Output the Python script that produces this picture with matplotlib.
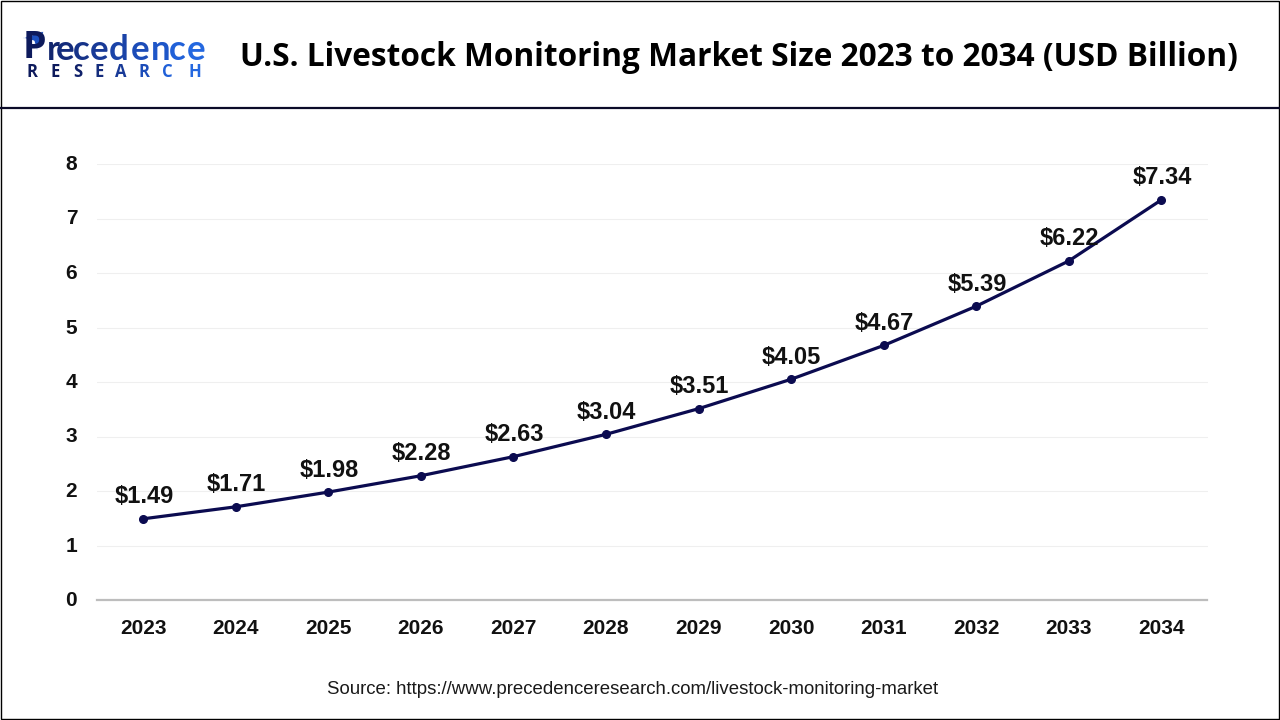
import numpy as np
import matplotlib
matplotlib.use("Agg")
import matplotlib.pyplot as plt
from matplotlib.patches import Polygon, Rectangle
from matplotlib.transforms import ScaledTranslation

years = ['2023', '2024', '2025', '2026', '2027', '2028', '2029', '2030', '2031', '2032', '2033', '2034']
values = [1.49, 1.71, 1.98, 2.28, 2.63, 3.04, 3.51, 4.05, 4.67, 5.39, 6.22, 7.34]
labels = ['$1.49', '$1.71', '$1.98', '$2.28', '$2.63', '$3.04', '$3.51', '$4.05', '$4.67', '$5.39', '$6.22', '$7.34']
y_ticks = [0, 1, 2, 3, 4, 5, 6, 7, 8]

navy = '#0b0b50'
W, H = 1280, 720

fig = plt.figure(figsize=(12.8, 7.2), dpi=100, facecolor='white')

# pixel overlay for the frame, header and logo
bg = fig.add_axes([0, 0, 1, 1])
bg.set_xlim(0, W)
bg.set_ylim(H, 0)
bg.axis('off')
bg.add_patch(Rectangle((0.5, 0.5), W - 1.5, H - 1.5, fill=False, ec='black', lw=1.0))
bg.plot([0, W], [108, 108], color='#0a0a28', lw=1.6)

bg.text(739, 57.5, 'U.S. Livestock Monitoring Market Size 2023 to 2034 (USD Billion)',
        ha='center', va='center', fontsize=22.8, fontweight='bold', family='Open Sans', color='black')

# logo, letter by letter for the colour fade
bg.text(23, 58, 'P', fontsize=27, fontweight='bold', family='Open Sans', color='#0d1a5c', ha='left', va='baseline')
word = 'recedence'
word_x = [47, 56, 73, 90, 109, 131, 151, 169, 187]
word_c = ['#12266e', '#142c7c', '#163389', '#183a97', '#1a43a8', '#1c4cb8', '#1e56c8', '#2060d8', '#2468e0']
for ch, xp, c in zip(word, word_x, word_c):
    bg.text(xp, 60, ch, fontsize=25, fontweight='bold', family='Lato', color=c, ha='left', va='baseline')
bg.add_patch(Polygon([[23, 38], [44, 31], [37, 50], [34, 41]], fc='#1c50c0', ec='white', lw=0.6))
research = 'RESEARCH'
research_x = [26, 50, 73, 94, 115, 139, 162, 188]
research_c = ['#0d1a5c', '#0d1a5c', '#10216a', '#142c7c', '#183a97', '#1c4cb8', '#2060d8', '#2468e0']
for ch, xp, c in zip(research, research_x, research_c):
    bg.text(xp, 77, ch, fontsize=12, fontweight='bold', family='Open Sans', color=c, ha='left', va='baseline')

bg.text(633, 690, 'Source: https://www.precedenceresearch.com/livestock-monitoring-market',
        ha='center', va='center', fontsize=13.4, family='Liberation Sans', color='#1a1a1a')

# chart
ax = fig.add_axes([97 / W, 1 - 600 / H, (1207.5 - 97) / W, (600 - 164) / H])
ax.patch.set_alpha(0)
x = np.arange(len(years))
ax.plot(x, values, color=navy, lw=2.3, marker='o', ms=5.5, mfc=navy, mec=navy, zorder=3, clip_on=False)
ax.set_xlim(-0.5, len(years) - 0.5)
ax.set_ylim(0, 8)
ax.set_xticks(x)
ax.set_xticklabels(years)
ax.set_yticks(y_ticks)
ax.grid(axis='y', color='#efefef', lw=0.8)
ax.set_axisbelow(True)
for s in ['top', 'right', 'left']:
    ax.spines[s].set_visible(False)
ax.spines['bottom'].set_color('#bdbdbd')
ax.spines['bottom'].set_linewidth(1.6)
ax.tick_params(length=0)
ax.tick_params(axis='x', pad=14)
ax.tick_params(axis='y', pad=14.3)
for t in ax.get_xticklabels() + ax.get_yticklabels():
    t.set_family('Liberation Sans')
    t.set_fontweight('bold')
    t.set_fontsize(15)
    t.set_color('#111111')
# y labels sit a touch higher in the original
up = ScaledTranslation(0, 1.5 / 100, fig.dpi_scale_trans)
for t in ax.get_yticklabels():
    t.set_transform(t.get_transform() + up)

for xi, v, lab in zip(x, values, labels):
    ax.annotate(lab.replace('$', r'\$'), (xi, v), xytext=(0.5, 7.6), textcoords='offset points',
                ha='center', va='bottom', fontsize=17, fontweight='bold',
                family='Liberation Sans', color='#111111')

plt.savefig('out.png', dpi=100, facecolor='white')
plt.close('all')
